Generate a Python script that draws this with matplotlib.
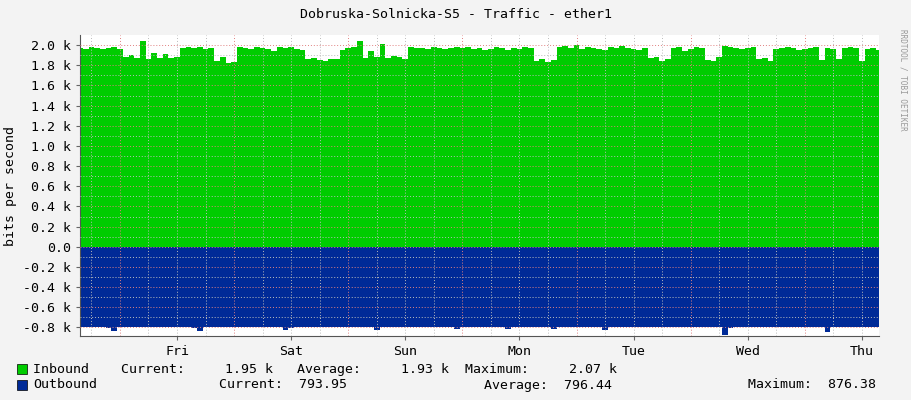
import matplotlib
matplotlib.use("Agg")
import matplotlib.pyplot as plt
import numpy as np

# inbound (k bits/s), samples every 0.05 day over 7 days
inbound = [1.97,1.96,1.98,1.97,1.96,1.97,1.98,1.96,1.88,1.90,1.87,2.04,1.86,1.92,1.87,1.91,1.87,1.88,1.97,1.98,
           1.97,1.98,1.96,1.97,1.84,1.88,1.82,1.83,1.98,1.97,1.96,1.98,1.97,1.96,1.94,1.98,1.97,1.98,1.96,1.95,
           1.86,1.87,1.85,1.84,1.86,1.86,1.95,1.97,1.98,2.04,1.87,1.94,1.88,2.01,1.87,1.89,1.88,1.86,1.98,1.97,
           1.97,1.96,1.98,1.97,1.96,1.97,1.98,1.97,1.98,1.96,1.97,1.95,1.96,1.98,1.97,1.95,1.97,1.96,1.98,1.97,
           1.84,1.86,1.83,1.85,1.98,1.99,1.97,2.00,1.96,1.98,1.97,1.96,1.95,1.98,1.97,1.99,1.97,1.96,1.95,1.97,
           1.87,1.88,1.84,1.86,1.97,1.98,1.94,1.96,1.98,1.97,1.85,1.84,1.88,1.99,1.98,1.97,1.96,1.97,1.98,1.86,
           1.87,1.84,1.96,1.97,1.98,1.97,1.95,1.96,1.97,1.98,1.85,1.97,1.96,1.86,1.97,1.98,1.97,1.84,1.96,1.97,1.95]
# outbound (k bits/s, shown negative)
outbound = [0.795,0.795,0.794,0.796,0.795,0.808,0.835,0.795,0.795,0.794,0.795,0.797,0.795,0.795,0.796,0.795,0.794,0.795,0.795,0.795,
            0.810,0.840,0.795,0.795,0.795,0.795,0.796,0.795,0.795,0.795,0.795,0.794,0.795,0.795,0.795,0.795,0.830,0.806,0.795,0.795,
            0.795,0.795,0.794,0.795,0.795,0.796,0.795,0.795,0.795,0.795,0.795,0.795,0.825,0.800,0.795,0.795,0.795,0.795,0.795,0.794,
            0.795,0.795,0.795,0.795,0.795,0.795,0.818,0.795,0.795,0.795,0.795,0.795,0.795,0.795,0.795,0.820,0.796,0.795,0.795,0.795,
            0.795,0.795,0.795,0.812,0.795,0.795,0.795,0.795,0.795,0.795,0.795,0.795,0.826,0.795,0.795,0.795,0.795,0.795,0.795,0.795,
            0.795,0.795,0.795,0.795,0.795,0.795,0.795,0.795,0.795,0.795,0.795,0.795,0.795,0.876,0.810,0.795,0.795,0.795,0.795,0.795,
            0.795,0.795,0.795,0.795,0.795,0.795,0.795,0.795,0.795,0.795,0.795,0.850,0.800,0.795,0.795,0.795,0.795,0.795,0.795,0.795,0.795]
days = ["Fri","Sat","Sun","Mon","Tue","Wed","Thu"]

inb = np.array(inbound); outb = -np.array(outbound)
t = np.linspace(0, 7, len(inb))
off = 0.35  # first midnight

fig = plt.figure(figsize=(9.11, 4.0), dpi=100, facecolor="#f3f3f3")
ax = fig.add_axes([80/911, 1-336/400, 799/911, (336-35)/400])
ax.set_facecolor("white")
ax.set_xlim(0, 7); ax.set_ylim(-0.885, 2.1)
ax.fill_between(t, 0, inb, color="#00cc00", step="mid", lw=0, zorder=2)
ax.fill_between(t, 0, outb, color="#002a97", step="mid", lw=0, zorder=2)
for y in np.arange(-0.8, 2.05, 0.1):
    major = abs(round(y*10) % 2) == 0
    ax.axhline(y, color="#e08080" if major else "#bbbbbb", ls=(0,(1,2)), lw=0.7, zorder=3)
for i in range(-1, 29):
    x = off + i*0.25
    if 0 < x < 7:
        ax.axvline(x, color="#e08080" if i % 4 == 0 else "#bbbbbb", ls=(0,(1,2)), lw=0.7, zorder=3)
yt = np.arange(-0.8, 2.05, 0.2)
ax.set_yticks(yt)
ax.set_yticklabels([f"{v:.1f} k" if abs(v) > 1e-9 else "0.0" for v in yt], family="DejaVu Sans Mono", fontsize=9.5)
ax.set_xticks([off + i + 0.5 for i in range(7)])
ax.set_xticklabels(days, family="DejaVu Sans Mono", fontsize=9.5)
ax.tick_params(length=3, color="#666666")
for s in ["top", "right"]:
    ax.spines[s].set_visible(False)
for s in ["left", "bottom"]:
    ax.spines[s].set_color("#555555")
ax.set_ylabel("bits per second", family="DejaVu Sans Mono", fontsize=9.5)
fig.text(0.5, 1-14/400, "Dobruska-Solnicka-S5 - Traffic - ether1", ha="center", va="center", family="DejaVu Sans Mono", fontsize=9.5)
fig.text(903/911, 1-80/400, "RRDTOOL / TOBI OETIKER", rotation=270, ha="center", va="center", family="DejaVu Sans Mono", fontsize=5.5, color="#999999")
mono = dict(family="DejaVu Sans Mono", fontsize=9.5, va="center")
fig.patches.append(plt.Rectangle((17/911, 1-374/400), 10/911, 10/400, transform=fig.transFigure, fc="#00cc00", ec="black", lw=0.5))
fig.patches.append(plt.Rectangle((17/911, 1-390/400), 10/911, 10/400, transform=fig.transFigure, fc="#002a97", ec="black", lw=0.5))
fig.text(33/911, 1-369/400, "Inbound    Current:     1.95 k   Average:     1.93 k  Maximum:     2.07 k", **mono)
fig.text(33/911, 1-385/400, "Outbound", **mono)
fig.text(219/911, 1-385/400, "Current:  793.95", **mono)
fig.text(484/911, 1-385/400, "Average:  796.44", **mono)
fig.text(748/911, 1-385/400, "Maximum:  876.38", **mono)
fig.savefig("out.png", dpi=100, facecolor=fig.get_facecolor())
